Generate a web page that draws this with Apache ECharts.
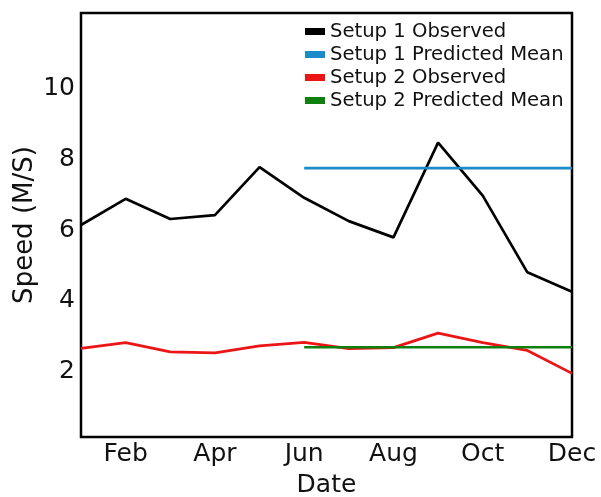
<!DOCTYPE html>
<html>
<head>
<meta charset="utf-8">
<script src="https://cdn.jsdelivr.net/npm/echarts@6/dist/echarts.min.js"></script>
<style>
  html, body { margin: 0; padding: 0; background: #fff; }
  #chart { width: 601px; height: 497px; }
</style>
</head>
<body>
<div id="chart"></div>
<script>
// Monthly wind speed: observed values and predicted means for two setups
const months = ['Jan', 'Feb', 'Mar', 'Apr', 'May', 'Jun', 'Jul', 'Aug', 'Sep', 'Oct', 'Nov', 'Dec'];
const setup1Observed = [6.0, 6.74, 6.17, 6.28, 7.64, 6.77, 6.11, 5.65, 8.33, 6.83, 4.66, 4.11];
const setup2Observed = [2.51, 2.67, 2.41, 2.38, 2.58, 2.68, 2.50, 2.53, 2.94, 2.67, 2.45, 1.80];
// Predicted means cover June to December only
const setup1PredictedMean = [null, null, null, null, null, 7.61, 7.61, 7.61, 7.61, 7.61, 7.61, 7.61];
const setup2PredictedMean = [null, null, null, null, null, 2.54, 2.54, 2.54, 2.54, 2.54, 2.54, 2.54];
const yTicks = [2, 4, 6, 8, 10];

const FONT = 'DejaVu Sans';

function lineSeries(name, data, color) {
  return {
    name: name,
    type: 'line',
    data: data,
    symbol: 'none',
    connectNulls: false,
    lineStyle: { color: color, width: 2.7 },
    itemStyle: { color: color },
    emphasis: { disabled: true }
  };
}

const chart = echarts.init(document.getElementById('chart'), null, { renderer: 'canvas' });
chart.setOption({
  animation: false,
  backgroundColor: '#ffffff',
  textStyle: { fontFamily: FONT },
  grid: {
    left: 81, right: 29, top: 13, bottom: 60,
    outerBoundsMode: 'none',
    containLabel: false,
    show: true, borderColor: '#000', borderWidth: 2.5, backgroundColor: 'transparent'
  },
  legend: {
    orient: 'vertical',
    left: 300,
    top: 15,
    icon: 'rect',
    itemWidth: 20,
    itemHeight: 7,
    itemGap: 0,
    textStyle: { fontFamily: FONT, fontSize: 19.6, color: '#111', lineHeight: 23 },
    data: ['Setup 1 Observed', 'Setup 1 Predicted Mean', 'Setup 2 Observed', 'Setup 2 Predicted Mean']
  },
  xAxis: {
    type: 'category',
    data: months,
    boundaryGap: false,
    name: 'Date',
    nameLocation: 'middle',
    nameGap: 36,
    nameTextStyle: { fontFamily: FONT, fontSize: 25, color: '#111' },
    axisLine: { show: false },
    axisTick: { show: false },
    splitLine: { show: false },
    axisLabel: {
      interval: function (i) { return i % 2 === 1; },
      fontFamily: FONT, fontSize: 25, color: '#111', margin: 5
    }
  },
  yAxis: {
    type: 'value',
    min: 0, max: 12, interval: 2,
    name: 'Speed (M/S)',
    nameLocation: 'middle',
    nameRotate: 90,
    nameGap: 43,
    nameMoveOverlap: false,
    nameTextStyle: { fontFamily: FONT, fontSize: 26, color: '#111' },
    axisLine: { show: false },
    axisTick: { show: false },
    splitLine: { show: false },
    axisLabel: {
      fontFamily: FONT, fontSize: 25, color: '#111', margin: 6,
      formatter: function (v) { return yTicks.indexOf(v) >= 0 ? '{n|' + v + '}' : ''; },
      rich: {
        n: { fontFamily: FONT, fontSize: 25, color: '#111', padding: [10, 0, 0, 0] }
      }
    }
  },
  series: [
    lineSeries('Setup 1 Observed', setup1Observed, '#000000'),
    lineSeries('Setup 1 Predicted Mean', setup1PredictedMean, '#1b8bc9'),
    lineSeries('Setup 2 Observed', setup2Observed, '#ec1515'),
    lineSeries('Setup 2 Predicted Mean', setup2PredictedMean, '#0f800f')
  ]
});
</script>
</body>
</html>
